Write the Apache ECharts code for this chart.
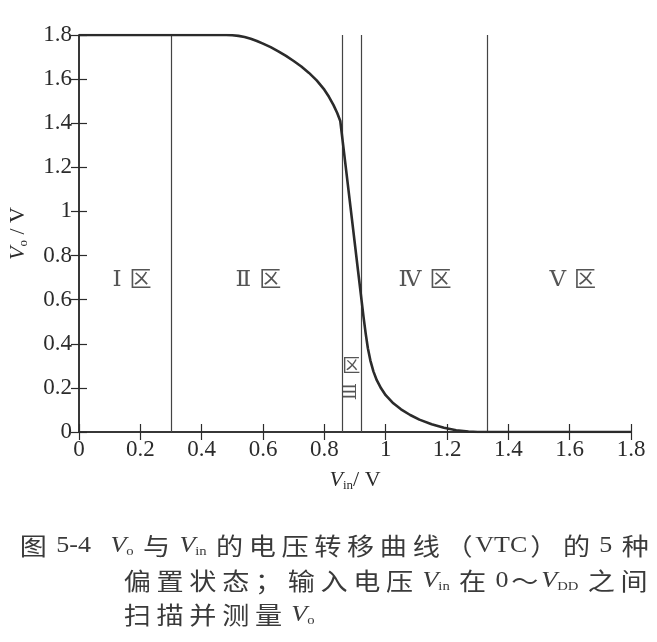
<!DOCTYPE html>
<html>
<head>
<meta charset="utf-8">
<script src="https://cdn.jsdelivr.net/npm/echarts@6/dist/echarts.min.js"></script>
<style>
html,body{margin:0;padding:0;background:#fff;}
#main{width:657px;height:642px;}
</style>
</head>
<body>
<div id="main"></div>
<script>
// ---- data ----
var vin = [0, 0.1, 0.2, 0.3, 0.4, 0.45, 0.48, 0.5, 0.52, 0.54, 0.56, 0.58, 0.6, 0.625, 0.65, 0.675, 0.7, 0.725, 0.75, 0.775, 0.8, 0.815, 0.83, 0.842, 0.852,
           0.87, 0.89, 0.91, 0.922, 0.928, 0.935, 0.942, 0.95, 0.96, 0.971, 0.985, 1.0, 1.025, 1.05, 1.08, 1.11, 1.15, 1.19, 1.23, 1.27, 1.3, 1.4, 1.6, 1.8];
var vout = [1.8, 1.8, 1.8, 1.8, 1.8, 1.8, 1.8, 1.799, 1.796, 1.791, 1.783, 1.773, 1.761, 1.745, 1.726, 1.705, 1.682, 1.657, 1.628, 1.594, 1.552, 1.52, 1.482, 1.446, 1.41,
            1.2, 0.965, 0.73, 0.59, 0.52, 0.445, 0.38, 0.325, 0.275, 0.235, 0.198, 0.167, 0.13, 0.103, 0.077, 0.056, 0.035, 0.019, 0.008, 0.002, 0.0, 0.0, 0.0, 0.0];
var boundaries = [0.305, 0.857, 0.919, 1.33];
var regionNames = ['Ⅰ区', 'Ⅱ区', 'Ⅳ区', 'Ⅴ区'];
var regionX = [0.173, 0.585, 1.128, 1.61];
var regionY = [0.69, 0.69, 0.69, 0.69];
var region3Parts = ['区', 'Ⅲ'];
var region3X = [0.888, 0.888];
var region3Y = [0.295, 0.183];
var captionLines = [
  '图 5-4   {i|V}{s|o} 与 {i|V}{s|in} 的电压转移曲线（VTC）的 5 种',
  '偏置状态；输入电压 {i|V}{s|in} 在 0～{i|V}{s|DD} 之间',
  '扫描并测量 {i|V}{s|o}'
];

// ---- chart ----
var serif = '"Liberation Serif", "DejaVu Serif", "Noto Sans CJK SC", serif';
var cjk = '"Noto Sans CJK SC", sans-serif';
var ink = '#2b2b2b';
var capInk = '#3a3a3a';
var chart = echarts.init(document.getElementById('main'), null, {renderer: 'canvas'});

var curve = vin.map(function (x, i) { return [x, vout[i]]; });
var regions = regionNames.map(function (n, i) { return {name: n, value: [regionX[i], regionY[i]]}; });
var r3 = region3Parts.map(function (n, i) { return {name: n, value: [region3X[i], region3Y[i]]}; });

var baseAxisLine = {lineStyle: {color: ink, width: 1.5}};
var tickStyle = {inside: true, length: 8, lineStyle: {color: ink, width: 1.2}};
var labelStyle = {fontFamily: serif, fontSize: 23, color: ink};
var fmt = function (v) { return String(+v.toFixed(1)); };
var nameRich = {
  i: {fontFamily: serif, fontStyle: 'italic', fontSize: 22, color: ink},
  s: {fontFamily: serif, fontSize: 13, color: ink, verticalAlign: 'bottom', padding: [11, 0, 0, 0]},
  n: {fontFamily: serif, fontSize: 22, color: ink}
};
function spaced(line) {
  return line.replace(/[\u3000-\u303f\u4e00-\u9fff\uff00-\uffef]/g, function (c) { return '{c|' + c + '}'; });
}
var capRich = {
  c: {fontFamily: cjk, fontSize: 24, fill: capInk, padding: [0, 2.5, 0, 2.5]},
  i: {fontFamily: serif, fontStyle: 'italic', fontSize: 23, fill: capInk},
  s: {fontFamily: serif, fontSize: 13, fill: capInk, verticalAlign: 'bottom', padding: [11, 0, 0, 0]}
};
var capLeft = [17, 121, 121];
var capTop = [534, 569, 603];

var option = {
  backgroundColor: '#fff',
  animation: false,
  grid: {left: 79, right: 26, top: 35, bottom: 210, containLabel: false, outerBoundsMode: 'none'},
  xAxis: [{
    type: 'value', min: 0, max: 1.8, interval: 0.2, position: 'bottom',
    axisLine: baseAxisLine, axisTick: tickStyle, splitLine: {show: false},
    axisLabel: Object.assign({margin: 6, formatter: fmt}, labelStyle),
    name: '{i|V}{s|in}{n|/ V}', nameLocation: 'middle', nameGap: 36,
    nameTextStyle: {rich: nameRich}
  }, {
    type: 'value', min: 0, max: 1.8, interval: 0.2, position: 'top',
    axisLine: baseAxisLine, axisTick: tickStyle, splitLine: {show: false}, axisLabel: {show: false}
  }],
  yAxis: [{
    type: 'value', min: 0, max: 1.8, interval: 0.2, position: 'left',
    axisLine: baseAxisLine, axisTick: tickStyle, splitLine: {show: false},
    axisLabel: Object.assign({margin: 7, formatter: fmt}, labelStyle),
    name: '{i|V}{s|o}{n| / V}', nameLocation: 'middle', nameGap: 49, nameRotate: 90,
    nameTextStyle: {rich: nameRich}
  }, {
    type: 'value', min: 0, max: 1.8, interval: 0.2, position: 'right',
    axisLine: baseAxisLine, axisTick: tickStyle, splitLine: {show: false}, axisLabel: {show: false}
  }],
  series: [{
    type: 'line', data: curve, showSymbol: false, smooth: false,
    lineStyle: {color: ink, width: 2.6, join: 'round'}, z: 5,
    markLine: {
      silent: true, symbol: ['none', 'none'], label: {show: false},
      lineStyle: {color: '#444', width: 1.2, type: 'solid'},
      data: boundaries.map(function (b) { return {xAxis: b}; })
    }
  }, {
    type: 'scatter', data: regions, symbolSize: 0,
    label: {show: true, position: 'inside',
      formatter: function (p) { return '{r|' + p.name.charAt(0) + '}{c|' + p.name.slice(1) + '}'; },
      rich: {
        r: {fontFamily: serif, fontSize: 23, color: ink, padding: [0, 8, 0, 0], verticalAlign: 'middle'},
        c: {fontFamily: cjk, fontSize: 22, color: ink, padding: [0, 0, 5, 0], verticalAlign: 'middle'}
      }}
  }, {
    type: 'scatter', data: r3, symbolSize: 0,
    label: {show: true, position: 'inside', formatter: function (p) { return p.name; },
      fontFamily: serif, fontSize: 18, color: ink}
  }],
  graphic: captionLines.map(function (t, k) {
    return {
      type: 'text', x: capLeft[k], y: capTop[k], scaleX: 1.13, scaleY: 1,
      style: {text: spaced(t), font: '23px ' + serif, fill: capInk, rich: capRich}
    };
  })
};
option.series[2].data[1].label = {rotate: 90};
chart.setOption(option);
</script>
</body>
</html>
